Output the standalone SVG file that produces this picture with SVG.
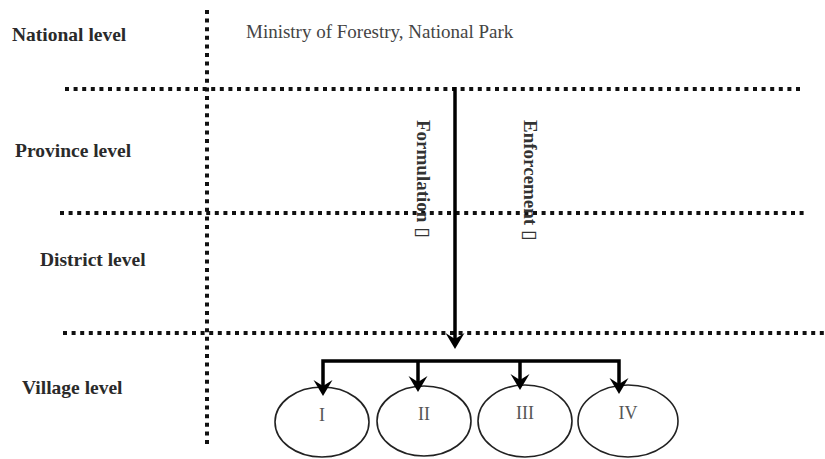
<svg xmlns="http://www.w3.org/2000/svg" width="825" height="459" viewBox="0 0 825 459">
<style>
.lvl{font-family:"Liberation Serif","Times New Roman",serif;font-weight:bold;font-size:19.5px;fill:#2a2a2a}
.reg{font-family:"Liberation Serif","Times New Roman",serif;font-size:19px;fill:#444}
.vert{font-family:"Liberation Serif","DejaVu Sans",serif;font-weight:bold;font-size:19px;fill:#333}
.num{font-family:"Liberation Serif","Times New Roman",serif;font-size:18px;fill:#555;text-anchor:middle}
.dot{stroke:#111;stroke-width:4;stroke-dasharray:4 4.6;fill:none}
.node{fill:#fff;stroke:#222;stroke-width:1.6}
.conn{stroke:#000;stroke-width:3.5;fill:none}
.head{fill:#000}
</style>
<defs>
<path id="ah" d="M0,0 L-9.5,-16 L0,-10 L9.5,-16 Z"/>
</defs>
<rect width="825" height="459" fill="#fff"/>
<g id="guides">
<line class="dot" x1="65" y1="89" x2="803" y2="89"/>
<line class="dot" x1="60" y1="213" x2="807" y2="213"/>
<line class="dot" x1="63" y1="333" x2="825" y2="333"/>
<line class="dot" x1="207" y1="10" x2="207" y2="445"/>
</g>
<g id="labels">
<text class="lvl" x="12" y="41">National level</text>
<text class="lvl" x="15" y="157">Province level</text>
<text class="lvl" x="40" y="266">District level</text>
<text class="lvl" x="22" y="394">Village level</text>
</g>
<g id="ministry">
<text class="reg" x="246" y="38">Ministry of Forestry, National Park</text>
</g>
<g id="formulation">
<text class="vert" transform="translate(417,120) rotate(90)">Formulation ▯</text>
</g>
<g id="enforcement">
<text class="vert" transform="translate(524,120) rotate(90)">Enforcement ▯</text>
</g>
<g id="village-I"><ellipse class="node" cx="322" cy="422" rx="47" ry="35"/><text class="num" x="322" y="421">I</text></g>
<g id="village-II"><ellipse class="node" cx="424" cy="421" rx="47" ry="35"/><text class="num" x="424" y="420">II</text></g>
<g id="village-III"><ellipse class="node" cx="525" cy="421" rx="47" ry="36"/><text class="num" x="525" y="419">III</text></g>
<g id="village-IV"><ellipse class="node" cx="628" cy="421" rx="50" ry="36"/><text class="num" x="628" y="419">IV</text></g>
<g id="connectors">
<line class="conn" x1="455" y1="87" x2="455" y2="340"/>
<use href="#ah" class="head" transform="translate(455,349)"/>
<polyline class="conn" points="323,388 323,361 619,361 619,386"/>
<line class="conn" x1="418" y1="361" x2="418" y2="384"/>
<line class="conn" x1="520" y1="361" x2="520" y2="382"/>
<use href="#ah" class="head" transform="translate(323,396)"/>
<use href="#ah" class="head" transform="translate(418,392)"/>
<use href="#ah" class="head" transform="translate(520,390)"/>
<use href="#ah" class="head" transform="translate(619,394)"/>
</g>
</svg>
